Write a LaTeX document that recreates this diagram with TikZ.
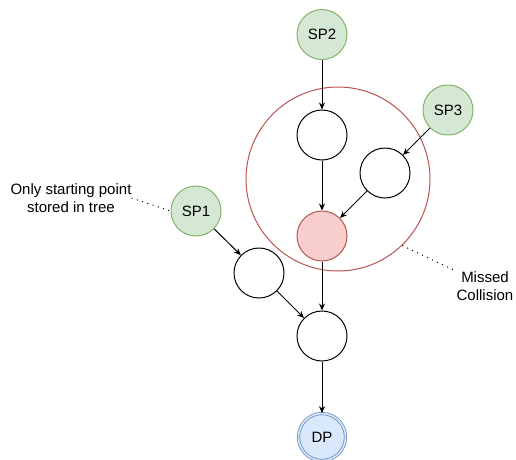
\documentclass[tikz,border=0pt]{standalone}
\usepackage{fontspec}
\setmainfont{Liberation Sans}
\usetikzlibrary{arrows.meta}
\usetikzlibrary{positioning}

\definecolor{spfill}{HTML}{D5E8D4}
\definecolor{spline}{HTML}{82B366}
\definecolor{hitfill}{HTML}{F8CECC}
\definecolor{hitline}{HTML}{B85450}
\definecolor{dpfill}{HTML}{DAE8FC}
\definecolor{dpline}{HTML}{6C8EBF}

\begin{document}
\begin{tikzpicture}[x=1pt,y=-1pt,
  font=\fontsize{15}{18}\selectfont,
  pt/.style={circle,draw=black,line width=1pt,minimum size=50pt,inner sep=0pt},
  start/.style={pt,draw=spline,fill=spfill},
  hit/.style={pt,draw=hitline,fill=hitfill},
  dpoint/.style={pt,draw=dpline,fill=dpfill,line width=0.8pt,double=dpfill,double distance=1.6pt,minimum size=47pt},
  walk/.style={line width=1pt,-{Stealth[length=7pt,width=6pt]}},
  note/.style={line width=1pt,dash pattern=on 1pt off 4.5pt}]
\useasboundingbox (0,0) rectangle (516,459);

% region of the missed collision
\node[circle,draw=hitline,line width=1pt,minimum size=184pt] (zone) at (338,179) {};

\node[start] (sp2) at (322,34.5) {SP2};
\node[start] (sp3) at (448,110) {SP3};
\node[start] (sp1) at (196,211) {SP1};
\node[pt] (a) at (322,135) {};
\node[pt] (b) at (385,173) {};
\node[hit] (c) at (322,236) {};
\node[pt] (d) at (259,273) {};
\node[pt] (e) at (322,336) {};
\node[dpoint] (dp) at (322,437) {DP};

\draw[walk] (sp2) -- (a);
\draw[walk] (a) -- (c);
\draw[walk] (sp3) -- (b);
\draw[walk] (b) -- (c);
\draw[walk] (sp1) -- (d);
\draw[walk] (d) -- (e);
\draw[walk] (c) -- (e);
\draw[walk] (e) -- (dp);

% annotations
\node[align=center,inner sep=0pt] (only) at (71,198) {Only starting point\\stored in tree};
\draw[note] (only.east) -- (sp1.west);
\node[align=center,inner sep=0pt] (miss) at (485,286) {Missed\\Collision};
\draw[note] (zone.-46) -- (miss.north west);

\end{tikzpicture}
\end{document}
